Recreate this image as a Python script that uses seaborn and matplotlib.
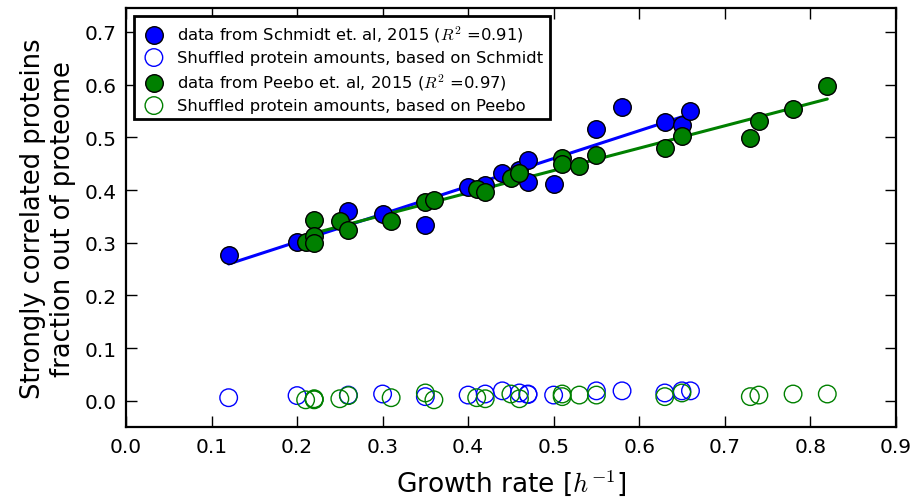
import numpy as np
import pandas as pd
import matplotlib
matplotlib.use("Agg")
import matplotlib.pyplot as plt
import seaborn as sns

# --- DATA ---
schmidt_growth = [0.12, 0.20, 0.26, 0.30, 0.35, 0.40, 0.42, 0.44, 0.46, 0.47,
                  0.47, 0.50, 0.55, 0.58, 0.63, 0.65, 0.66]
schmidt_frac = [0.277, 0.302, 0.361, 0.354, 0.333, 0.405, 0.409, 0.432, 0.438, 0.457,
                0.415, 0.411, 0.516, 0.558, 0.529, 0.524, 0.550]
schmidt_shuffled = [0.006, 0.010, 0.011, 0.013, 0.008, 0.011, 0.013, 0.019, 0.015, 0.013,
                    0.012, 0.011, 0.019, 0.019, 0.015, 0.019, 0.019]

peebo_growth = [0.21, 0.22, 0.22, 0.22, 0.25, 0.26, 0.31, 0.35, 0.36, 0.41, 0.42, 0.45,
                0.46, 0.51, 0.51, 0.53, 0.55, 0.63, 0.65, 0.73, 0.74, 0.78, 0.82]
peebo_frac = [0.302, 0.344, 0.313, 0.300, 0.342, 0.325, 0.342, 0.378, 0.381, 0.403, 0.397,
              0.422, 0.432, 0.461, 0.450, 0.445, 0.466, 0.480, 0.503, 0.499, 0.531, 0.553, 0.598]
peebo_shuffled = [0.002, 0.003, 0.002, 0.004, 0.004, 0.010, 0.006, 0.015, 0.002, 0.006, 0.004,
                  0.013, 0.004, 0.013, 0.008, 0.011, 0.011, 0.008, 0.015, 0.008, 0.011, 0.013, 0.013]

labels = [r'data from Schmidt et. al, 2015 ($R^2$ =0.91)',
          'Shuffled protein amounts, based on Schmidt',
          r'data from Peebo et. al, 2015 ($R^2$ =0.97)',
          'Shuffled protein amounts, based on Peebo']
# -------------------------------------

sns.set_style("ticks")
plt.rcParams['font.family'] = ['DejaVu Sans']
plt.rcParams['mathtext.fontset'] = 'cm'
plt.rcParams['text.color'] = 'black'
plt.rcParams['axes.labelcolor'] = 'black'

schmidt = pd.DataFrame({'growth': schmidt_growth, 'frac': schmidt_frac, 'shuf': schmidt_shuffled})
peebo = pd.DataFrame({'growth': peebo_growth, 'frac': peebo_frac, 'shuf': peebo_shuffled})

fig = plt.figure(figsize=(9.2, 5.02), dpi=100)
ax = fig.add_axes([0.137, 0.147, 0.8366, 0.8345])

# regression lines (under the markers)
sns.regplot(data=schmidt, x='growth', y='frac', scatter=False, ci=None, ax=ax,
            line_kws=dict(color='#0000ff', lw=2.2, zorder=1))
sns.regplot(data=peebo, x='growth', y='frac', scatter=False, ci=None, ax=ax,
            line_kws=dict(color='#008000', lw=2.2, zorder=1))

sns.scatterplot(data=schmidt, x='growth', y='frac', ax=ax, color='#0000ff', s=160,
                edgecolor='black', linewidth=1.0, label=labels[0], zorder=3)
sns.scatterplot(data=schmidt, x='growth', y='shuf', ax=ax, facecolor='none', s=160,
                edgecolor='#0000ff', linewidth=1.0, label=labels[1], zorder=3)
sns.scatterplot(data=peebo, x='growth', y='frac', ax=ax, color='#008000', s=160,
                edgecolor='black', linewidth=1.0, label=labels[2], zorder=4)
sns.scatterplot(data=peebo, x='growth', y='shuf', ax=ax, facecolor='none', s=160,
                edgecolor='#008000', linewidth=1.0, label=labels[3], zorder=4)

ax.set_xlim(0, 0.9)
ax.set_ylim(-0.05, 0.745)
ax.set_xticks(np.arange(0, 0.91, 0.1))
ax.set_yticks(np.arange(0, 0.71, 0.1))
ax.xaxis.set_major_formatter(matplotlib.ticker.FormatStrFormatter('%.1f'))
ax.yaxis.set_major_formatter(matplotlib.ticker.FormatStrFormatter('%.1f'))
ax.tick_params(direction='in', length=8, width=1, labelsize=14.5, pad=7,
               top=True, right=True, colors='black', labelcolor='black')
for sp in ax.spines.values():
    sp.set_visible(True)
    sp.set_linewidth(1.6)
    sp.set_color('black')

ax.set_xlabel(r'Growth rate [$h^{-1}$]', fontsize=19, labelpad=8, color='black')
ax.set_ylabel('Strongly correlated proteins\nfraction out of proteome', fontsize=18.5,
              labelpad=6, color='black')

leg = ax.legend(loc='upper left', fontsize=11.8, frameon=True, fancybox=False,
                handletextpad=0.6, borderpad=0.4, labelspacing=0.38,
                handlelength=1.6, borderaxespad=0.5)
leg.get_frame().set_edgecolor('black')
leg.get_frame().set_linewidth(2)
leg.get_frame().set_alpha(1)
for t in leg.get_texts():
    t.set_color('black')

fig.savefig('out.png', dpi=100)
